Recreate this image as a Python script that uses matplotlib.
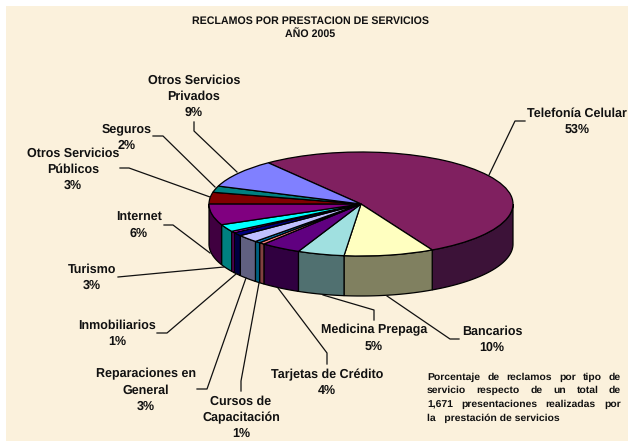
import numpy as np
import matplotlib.pyplot as plt
from matplotlib.patches import Polygon, Rectangle

plt.rcParams['font.family'] = ['Liberation Sans', 'DejaVu Sans']
plt.rcParams['text.hinting'] = 'none'

# slices, clockwise from Telefonia
slices = ['Telefonia', 'Bancarios', 'Medicina', 'Tarjetas', 'Otros', 'Cursos', 'Reparaciones',
          'Inmobiliarios', 'Sin rotulo', 'Turismo', 'Internet', 'Publicos', 'Seguros', 'Privados']
values = [53, 9.6, 5, 4.3, 0.6, 0.6, 2.4, 1.1, 0.5, 2.3, 6.6, 3.6, 2, 9]
top_colors = ['#802060', '#FFFFC0', '#A0E0E0', '#600080', '#FF8080', '#0080C0', '#C0C0FF',
              '#000080', '#FF00FF', '#00FFFF', '#800080', '#800000', '#008080', '#8080FF']
side_colors = ['#3C1238', '#808060', '#507070', '#300040', '#804040', '#006080', '#606080',
               '#000040', '#800080', '#008080', '#400040', '#400000', '#004040', '#404080']

labels = ['Telefonía Celular\n53%', 'Otros Servicios\nPrivados\n9%', 'Seguros\n2%',
          'Otros Servicios\nPúblicos\n3%', 'Internet\n6%', 'Turismo\n3%', 'Inmobiliarios\n1%',
          'Reparaciones en\nGeneral\n3%', 'Cursos de\nCapacitación\n1%',
          'Tarjetas de Crédito\n4%', 'Medicina Prepaga\n5%', 'Bancarios\n10%']
label_x = [577, 194, 127, 73, 139, 92, 117, 146, 241, 327, 374, 492]
label_y = [121, 96, 137, 169, 225, 277, 333, 390, 417, 382, 338, 339]

leaders = [[(525, 121), (515, 121), (489, 175)],
           [(194, 122), (194, 131), (237, 172)],
           [(153, 136), (163, 136), (215, 187)],
           [(120, 168), (129, 168), (210, 197)],
           [(164, 225), (173, 225), (210, 253)],
           [(118, 277), (224, 267)],
           [(157, 333), (167, 333), (236, 274)],
           [(197, 389), (207, 389), (246, 278)],
           [(241, 391), (241, 381), (259, 283)],
           [(327, 364), (327, 353), (278, 288)],
           [(374, 320), (374, 310), (323, 295)],
           [(459, 339), (450, 339), (387, 296)]]

note = ['Porcentaje de reclamos por tipo de',
        'servicio respecto de un total de',
        '1,671 presentaciones realizadas por']
note_last = 'la   prestación de servicios'

W, H = 628, 441
cx, cy, rx, ry, depth = 361, 204, 152, 52, 40
start = 127.6

fig = plt.figure(figsize=(W / 100, H / 100), dpi=100, facecolor='white')
bg = fig.add_axes([0, 0, 1, 1])
bg.set_xlim(0, W)
bg.set_ylim(H, 0)
bg.axis('off')
bg.add_patch(Rectangle((6, 6), W - 6, H - 6, facecolor='#FBF1DC', edgecolor='none'))

# pie axes: one unit is one radius of the ellipse
xm, top, bot = 1.2, 1.2, 2.0
ax = fig.add_axes([(cx - rx * xm) / W, 1 - (cy + ry * bot) / H, 2 * rx * xm / W, ry * (top + bot) / H])
ax.pie(values, colors=top_colors, startangle=start, counterclock=False, radius=1,
       wedgeprops={'edgecolor': 'black', 'linewidth': 0.9, 'zorder': 3})
ax.set_aspect('auto')
ax.set_xlim(-xm, xm)
ax.set_ylim(-bot, top)

# side wall of the front half
d = depth / ry
edges = start - 360 * np.cumsum([0] + values) / sum(values)
for i in range(len(values)):
    hi = min(edges[i], 0)
    lo = max(edges[i + 1], -180)
    if hi <= lo:
        continue
    t = np.radians(np.linspace(hi, lo, 60))
    px = np.cos(t)
    py = np.sin(t)
    pts = np.concatenate([np.column_stack([px, py]), np.column_stack([px[::-1], py[::-1] - d])])
    ax.add_patch(Polygon(pts, closed=True, facecolor=side_colors[i], edgecolor='black',
                         linewidth=0.9, zorder=2))

# leader lines and text on top
fg = fig.add_axes([0, 0, 1, 1])
fg.set_xlim(0, W)
fg.set_ylim(H, 0)
fg.axis('off')
fg.patch.set_alpha(0)
for line in leaders:
    fg.plot([p[0] for p in line], [p[1] for p in line], color='#101010', lw=0.9)

for s, x, y in zip(labels, label_x, label_y):
    fg.text(x, y + 0.5, s, ha='center', va='center', fontsize=9.0, fontweight='bold',
            color='#111111', linespacing=1.43)

fg.text(310, 27.5, 'RECLAMOS POR PRESTACION DE SERVICIOS\nAÑO 2005', ha='center', va='center',
        fontsize=7.7, fontweight='bold', color='#111111', linespacing=1.35)

# justified note, word by word
renderer = fig.canvas.get_renderer()
x0, x1 = 427, 621
for k, line in enumerate(note):
    words = line.split()
    items = [fg.text(0, 377 + k * 13.7, w, va='center', fontsize=7.5, fontweight='bold', color='#111111')
             for w in words]
    widths = [t.get_window_extent(renderer).width for t in items]
    gap = (x1 - x0 - sum(widths)) / (len(words) - 1)
    x = x0
    for t, w in zip(items, widths):
        t.set_x(x)
        x += w + gap
fg.text(x0, 377 + 3 * 13.7, note_last, va='center', fontsize=7.5, fontweight='bold', color='#111111')

fig.savefig('out.png', dpi=100)
